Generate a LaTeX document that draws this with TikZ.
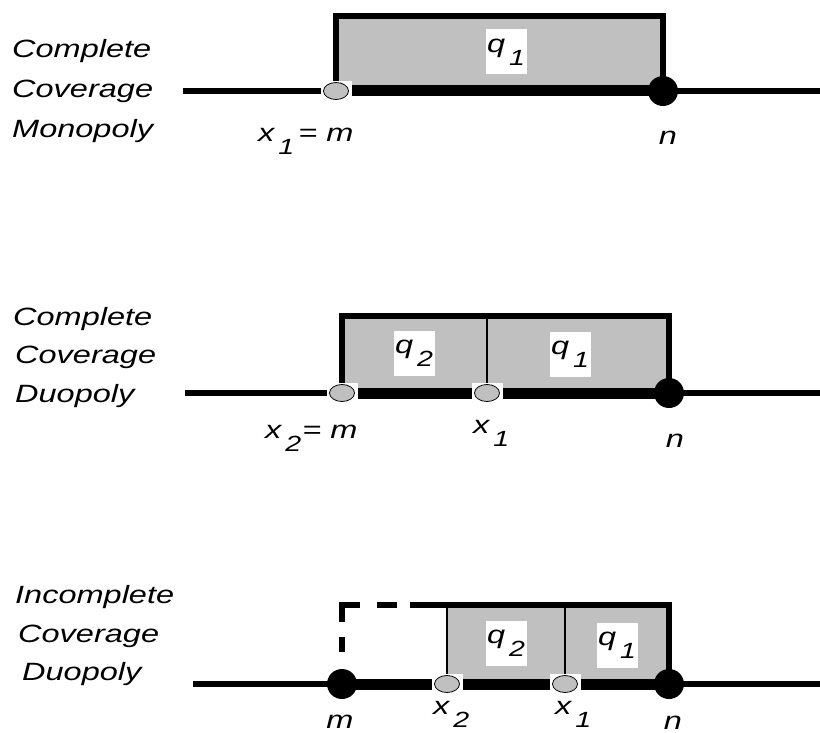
\documentclass[tikz,border=0pt]{standalone}
\usepackage{fontspec}
\setmainfont{Liberation Sans}[FakeStretch=1.3]
\usetikzlibrary{shapes.geometric}
\definecolor{boxgray}{RGB}{192,192,192}
\newcommand{\labfont}{\fontsize{25}{30}\selectfont\itshape}
\newcommand{\lowidx}[2]{#1\kern4pt\raisebox{-13pt}{\fontsize{22}{22}\selectfont #2}}

\begin{document}
\begin{tikzpicture}[x=1pt, y=-1pt,
    axis/.style={line width=6pt},
    thickaxis/.style={line width=11pt},
    boxline/.style={line width=6pt, line join=miter},
    divider/.style={line width=1.3pt},
    halo/.style={rectangle, fill=white, minimum width=31pt, minimum height=20pt, inner sep=0pt},
    gpt/.style={ellipse, draw, line width=0.8pt, fill=boxgray, minimum width=25pt, minimum height=17pt, inner sep=0pt},
    bpt/.style={circle, fill=black, minimum size=30pt, inner sep=0pt},
    qlab/.style={rectangle, fill=white, minimum width=41pt, minimum height=45pt, inner sep=0pt, font=\labfont},
    caption/.style={anchor=base west, inner sep=0pt, font=\labfont},
    lab/.style={inner sep=0pt, font=\labfont}]
    \useasboundingbox (0,0) rectangle (820,733);

    % Complete coverage monopoly
    \coordinate (s1) at (183,91);
    \coordinate (e1) at (820,91);
    \coordinate (pm1) at (336,91);
    \coordinate (pn1) at (663,91);
    \coordinate (t1) at (500,16);
    \fill[boxgray] (pm1 |- t1) rectangle (pn1);
    \draw[axis] (s1) -- (e1);
    \draw[thickaxis] (pm1) -- (pn1);
    \draw[boxline] (pm1) |- (t1) -| (pn1);
    \node[qlab] (q1a) at (506,52) {\lowidx{q}{1}};
    \node[halo] (h1) at (pm1) {};
    \node[gpt] (m1) at (pm1) {};
    \node[bpt] (n1) at (pn1) {};
    \node[lab, anchor=base west] (lm1) at (258,142) {\lowidx{x}{1}\kern4pt= m};
    \node[lab, anchor=base] (ln1) at (668,145) {n};
    \node[caption] (c1a) at (12,58) {Complete};
    \node[caption] (c1b) at (12,98) {Coverage};
    \node[caption] (c1c) at (12,138) {Monopoly};

    % Complete coverage duopoly
    \coordinate (s2) at (185,393);
    \coordinate (e2) at (820,393);
    \coordinate (pm2) at (342,393);
    \coordinate (px2) at (487,393);
    \coordinate (pn2) at (669,393);
    \coordinate (t2) at (500,316);
    \fill[boxgray] (pm2 |- t2) rectangle (pn2);
    \draw[axis] (s2) -- (e2);
    \draw[thickaxis] (pm2) -- (pn2);
    \draw[boxline] (pm2) |- (t2) -| (pn2);
    \draw[divider] (px2) -- (px2 |- t2);
    \node[qlab] (q2b) at (414,353) {\lowidx{q}{2}};
    \node[qlab] (q2a) at (570,354) {\lowidx{q}{1}};
    \node[halo] (h2) at (pm2) {};
    \node[gpt] (m2) at (pm2) {};
    \node[halo] (hx2) at (px2) {};
    \node[gpt] (x2) at (px2) {};
    \node[bpt] (n2) at (pn2) {};
    \node[lab, anchor=base west] (lm2) at (265,438) {\lowidx{x}{2}\kern1pt= m};
    \node[lab, anchor=base west] (lx2) at (473,433) {\lowidx{x}{1}};
    \node[lab, anchor=base] (ln2) at (675,447) {n};
    \node[caption] (c2a) at (13,325) {Complete};
    \node[caption] (c2b) at (15,363) {Coverage};
    \node[caption] (c2c) at (15,402) {Duopoly};

    % Incomplete coverage duopoly
    \coordinate (s3) at (193,684);
    \coordinate (e3) at (820,684);
    \coordinate (pm3) at (342,684);
    \coordinate (pxb3) at (447,684);
    \coordinate (pxa3) at (565,684);
    \coordinate (pn3) at (669,684);
    \coordinate (t3) at (410,605);
    \fill[boxgray] (pxb3 |- t3) rectangle (pn3);
    \draw[axis] (s3) -- (e3);
    \draw[thickaxis] (pm3) -- (pn3);
    \draw[boxline, dash pattern=on 0pt off 13pt on 20pt off 17pt on 35pt off 15pt on 15pt off 40pt] (t3) -| (pm3);
    \draw[boxline] (t3) -| (pn3);
    \draw[divider] (pxb3) -- (pxb3 |- t3);
    \draw[divider] (pxa3) -- (pxa3 |- t3);
    \node[qlab] (q3b) at (506,643) {\lowidx{q}{2}};
    \node[qlab] (q3a) at (617,645) {\lowidx{q}{1}};
    \node[bpt] (m3) at (pm3) {};
    \node[halo] (hxb3) at (pxb3) {};
    \node[gpt] (xb3) at (pxb3) {};
    \node[halo] (hxa3) at (pxa3) {};
    \node[gpt] (xa3) at (pxa3) {};
    \node[bpt] (n3) at (pn3) {};
    \node[lab, anchor=base] (lm3) at (340,728) {m};
    \node[lab, anchor=base west] (lxb3) at (433,714) {\lowidx{x}{2}};
    \node[lab, anchor=base west] (lxa3) at (555,714) {\lowidx{x}{1}};
    \node[lab, anchor=base] (ln3) at (673,729) {n};
    \node[caption] (c3a) at (15,603) {Incomplete};
    \node[caption] (c3b) at (18,642) {Coverage};
    \node[caption] (c3c) at (22,680) {Duopoly};
\end{tikzpicture}
\end{document}
